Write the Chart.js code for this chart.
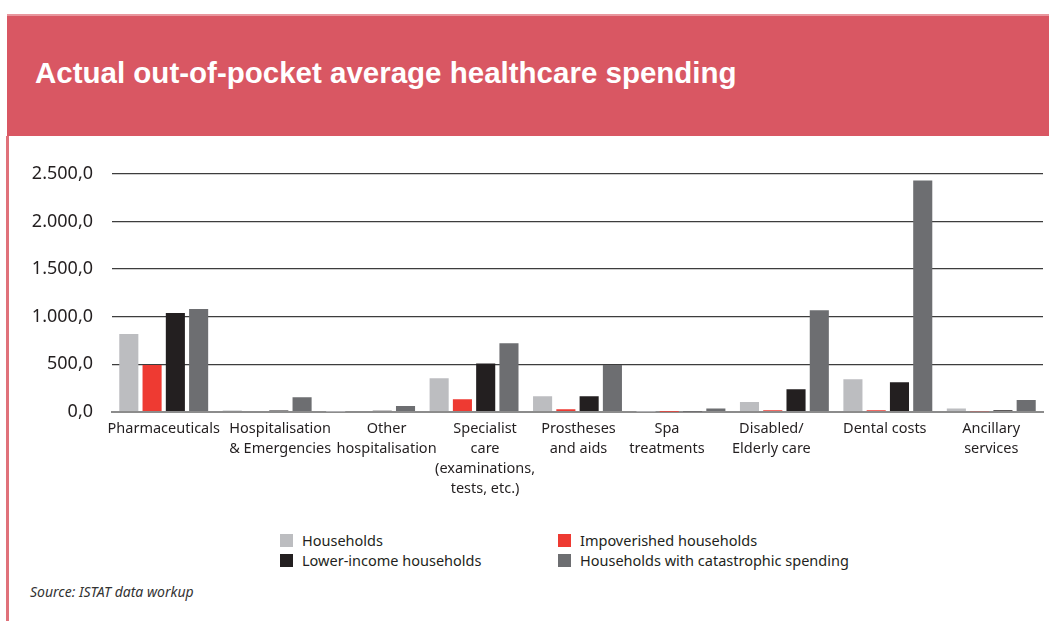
<!DOCTYPE html>
<html>
<head>
<meta charset="utf-8">
<title>Actual out-of-pocket average healthcare spending</title>
<script src="https://cdn.jsdelivr.net/npm/chart.js@4.4.1/dist/chart.umd.min.js"></script>
<style>
  body { margin: 0; background: #fff; }
  #page { position: relative; width: 1049px; height: 621px; overflow: hidden; font-family: "Noto Sans", sans-serif; color: #231f20; }
  #header { position: absolute; left: 7px; top: 14px; right: 0; height: 122px; background: #d95763; border-top: 2px solid #e8969d; box-sizing: border-box; }
  #title { position: absolute; left: 35px; top: 58px; margin: 0; font: bold 29.5px "Liberation Sans", Arial, sans-serif; line-height: 30px; color: #fff; white-space: nowrap; }
  #leftLine { position: absolute; left: 6px; top: 136px; bottom: 0; width: 3px; background: #e0717a; }
  #chartBox { position: absolute; left: 0; top: 144px; width: 1049px; height: 366px; }
  #legend { position: absolute; left: 280px; top: 530px; display: grid; grid-template-columns: 278px 320px; font-size: 14.5px; }
  #legend .item { display: flex; align-items: center; height: 20px; white-space: nowrap; }
  #legend .box { width: 13px; height: 13px; margin-right: 9px; }
  #source { position: absolute; left: 30px; top: 582px; font-size: 14px; font-style: italic; color: #333; }
</style>
</head>
<body>
<div id="page">
  <div id="header"></div>
  <h1 id="title">Actual out-of-pocket average healthcare spending</h1>
  <div id="leftLine"></div>
  <div id="chartBox"><canvas id="spendChart" width="1049" height="366"></canvas></div>
  <div id="legend"></div>
  <div id="source">Source: ISTAT data workup</div>
</div>
<script>
// spending categories, one entry per line of the axis label
const categories = [
  ["Pharmaceuticals"],
  ["Hospitalisation", "& Emergencies"],
  ["Other", "hospitalisation"],
  ["Specialist", "care", "(examinations,", "tests, etc.)"],
  ["Prostheses", "and aids"],
  ["Spa", "treatments"],
  ["Disabled/", "Elderly care"],
  ["Dental costs"],
  ["Ancillary", "services"]
];

const households   = [818, 15, 3, 353, 165, 2, 105, 343, 38];
const impoverished = [493, 0, 0, 133, 28, 2, 18, 18, 8];
const lowerIncome  = [1038, 15, 12, 510, 165, 8, 238, 312, 18];
const catastrophic = [1080, 154, 63, 721, 493, 38, 1067, 2430, 126];

const yTicks = [0, 500, 1000, 1500, 2000, 2500];

// label nudges along the axis, in px
const labelShift = [0, 13, 16, 11, 1, -14, -13, -3, 0];

function formatIt(v) {
  const s = Math.round(v).toString().replace(/\B(?=(\d{3})+(?!\d))/g, ".");
  return s + ",0";
}

const series = [
  { label: "Households", data: households, color: "#bcbdc0" },
  { label: "Impoverished households", data: impoverished, color: "#ee3a32" },
  { label: "Lower-income households", data: lowerIncome, color: "#231f20" },
  { label: "Households with catastrophic spending", data: catastrophic, color: "#6d6e71" }
];

const xLabels = {
  id: "xLabels",
  afterDraw(chart) {
    const { ctx, chartArea } = chart;
    const x = chart.scales.x;
    ctx.save();
    ctx.font = '14.5px "Noto Sans"';
    ctx.fillStyle = "#231f20";
    ctx.textAlign = "center";
    ctx.textBaseline = "middle";
    categories.forEach((lines, i) => {
      const cx = x.getPixelForValue(i) + labelShift[i];
      lines.forEach((t, j) => ctx.fillText(t, cx, chartArea.bottom + 17 + j * 20));
    });
    ctx.restore();
  }
};

const ctx = document.getElementById("spendChart").getContext("2d");

const spendChart = new Chart(ctx, {
  type: "bar",
  data: {
    labels: categories.map(c => c.join(" ")),
    datasets: series.map(s => ({
      label: s.label,
      data: s.data,
      backgroundColor: s.color,
      borderWidth: 0,
      categoryPercentage: 0.9,
      barPercentage: 0.82
    }))
  },
  options: {
    responsive: false,
    animation: false,
    layout: {
      padding: { left: 0, right: 6, top: 0, bottom: 98 }
    },
    plugins: {
      legend: { display: false },
      tooltip: { enabled: false }
    },
    scales: {
      x: {
        grid: { display: false, drawTicks: false },
        border: { display: true, color: "#8c8c8c", width: 2 },
        ticks: { display: false }
      },
      y: {
        min: 0,
        max: 2500,
        afterBuildTicks(scale) {
          scale.ticks = yTicks.map(v => ({ value: v }));
        },
        afterFit(scale) {
          scale.width = 112;
        },
        border: { display: false },
        grid: {
          drawTicks: false,
          color: c => (c.tick && c.tick.value === 0 ? "#8c8c8c" : "#3d3d3d"),
          lineWidth: c => (c.tick && c.tick.value === 0 ? 2 : 1.3)
        },
        ticks: {
          padding: 19,
          color: "#231f20",
          font: { family: "Noto Sans", size: 18 },
          callback: v => formatIt(v)
        }
      }
    }
  },
  plugins: [xLabels]
});

// legend laid out in two columns
const legendEl = document.getElementById("legend");
series.forEach(s => {
  const item = document.createElement("div");
  item.className = "item";
  const box = document.createElement("span");
  box.className = "box";
  box.style.background = s.color;
  item.appendChild(box);
  item.appendChild(document.createTextNode(s.label));
  legendEl.appendChild(item);
});
</script>
</body>
</html>
